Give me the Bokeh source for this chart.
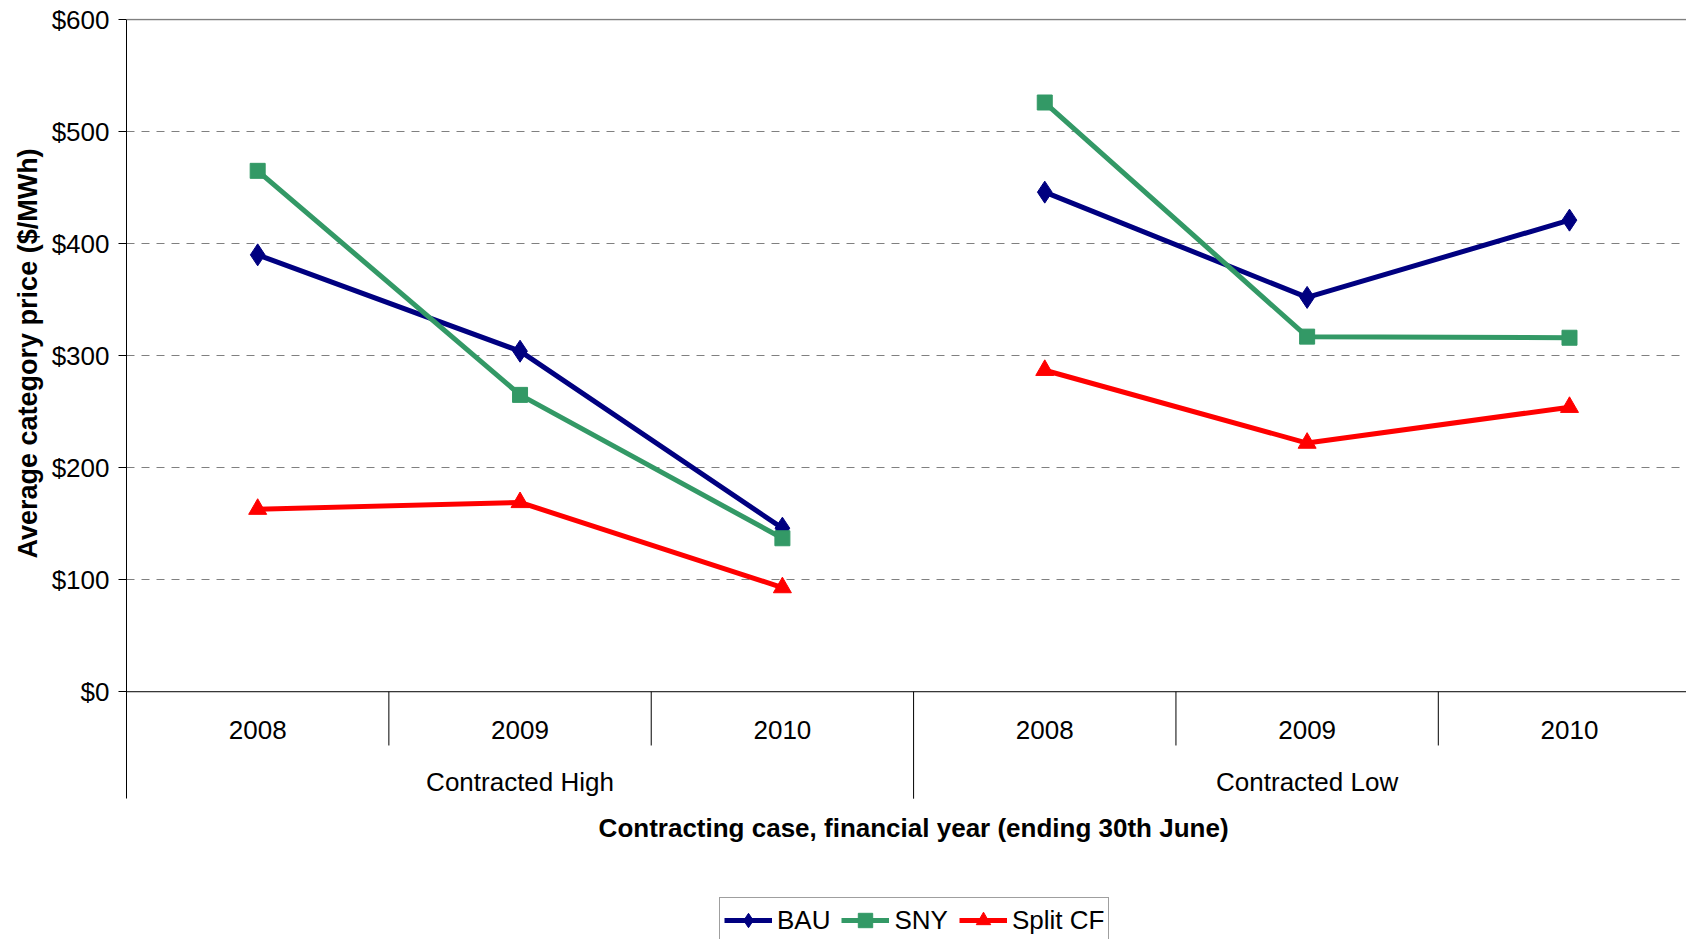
import math

from bokeh.core.properties import value
from bokeh.embed import file_html
from bokeh.models import FixedTicker, Legend, LegendItem, NumeralTickFormatter, Range1d, Span, Title
from bokeh.plotting import figure
from bokeh.resources import INLINE

# ---- data -----------------------------------------------------------------
groups = ["Contracted High", "Contracted Low"]
years = ["2008", "2009", "2010"]
bau = [390, 304, 146, 446, 352, 421]
sny = [465, 265, 137, 526, 317, 316]
split_cf = [163, 169, 93, 287, 222, 254]
y_ticks = [0, 100, 200, 300, 400, 500, 600]

FONT = "Liberation Sans"
NAVY = "#000080"
GREEN = "#339966"
RED = "#FF0000"
GRID = "#808080"

n_years = len(years)
n_cats = n_years * len(groups)
xpos = list(range(n_cats))


def broken(vals):
    """Insert a gap between the contracting cases so lines do not join."""
    xs, ys = [], []
    for g in range(len(groups)):
        if g:
            xs.append(math.nan)
            ys.append(math.nan)
        for k in range(n_years):
            i = g * n_years + k
            xs.append(xpos[i])
            ys.append(vals[i])
    return xs, ys


p = figure(
    width=1686,
    height=939,
    title=None,
    x_axis_location=None,
    output_backend="svg",
    toolbar_location=None,
    min_border_left=126,
    min_border_right=0,
    min_border_top=18,
    min_border_bottom=0,
    x_range=Range1d(-0.5, 5.446),
    y_range=Range1d(-221.2, 601),
)
p.outline_line_color = None
p.background_fill_color = "white"
p.border_fill_color = "white"
p.xgrid.visible = False

# y axis
yax = p.yaxis[0]
yax.ticker = FixedTicker(ticks=y_ticks)
yax.formatter = NumeralTickFormatter(format="$0,0")
yax.bounds = (-95.5, 600)
yax.axis_line_color = "black"
yax.major_tick_line_color = "black"
yax.major_tick_out = 8
yax.major_tick_in = 0
yax.minor_tick_out = 0
yax.minor_tick_in = 0
yax.major_label_standoff = 9
yax.major_label_text_font = FONT
yax.major_label_text_font_size = "26px"
yax.major_label_text_color = "black"

# axis title, raised so it sits centred on the value range ($0-$600)
p.add_layout(Title(
    text="Average category price ($/MWh)",
    align="left",
    offset=381,
    standoff=12,
    text_font=FONT,
    text_font_size="27px",
    text_font_style="bold",
    text_color="black",
), "left")

# dashed gridlines between the floor and the ceiling
p.ygrid.ticker = FixedTicker(ticks=y_ticks[1:-1])
p.ygrid.grid_line_color = GRID
p.ygrid.grid_line_dash = "8 7"
p.ygrid.grid_line_width = 1

p.add_layout(Span(location=y_ticks[-1], dimension="width", line_color=GRID, line_width=1.5))
p.add_layout(Span(location=y_ticks[0], dimension="width", line_color="black", line_width=1))

# two-level category axis drawn in the lower band
sep_x = [g * n_years + k + 0.5 for g in range(len(groups)) for k in range(n_years - 1)]
p.segment(x0=sep_x, y0=[0] * len(sep_x), x1=sep_x, y1=[-48] * len(sep_x), line_color="black", line_width=1)
grp_x = [g * n_years - 0.5 for g in range(1, len(groups))]
p.segment(x0=grp_x, y0=[0] * len(grp_x), x1=grp_x, y1=[-95.5] * len(grp_x), line_color="black", line_width=1)

p.text(
    x=xpos,
    y=[-34.5] * n_cats,
    text=years * len(groups),
    text_font=value(FONT),
    text_font_size="26px",
    text_color="black",
    text_align="center",
    text_baseline="middle",
)
p.text(
    x=[g * n_years + (n_years - 1) / 2 for g in range(len(groups))],
    y=[-80.6] * len(groups),
    text=groups,
    text_font=value(FONT),
    text_font_size="26px",
    text_color="black",
    text_align="center",
    text_baseline="middle",
)
p.text(
    x=[(n_cats - 1) / 2],
    y=[-122],
    text=["Contracting case, financial year (ending 30th June)"],
    text_font=value(FONT),
    text_font_size="26px",
    text_font_style="bold",
    text_color="black",
    text_align="center",
    text_baseline="middle",
)

# series
series = [
    ("BAU", bau, NAVY, "diamond", 22),
    ("SNY", sny, GREEN, "square", 15),
    ("Split CF", split_cf, RED, "triangle", 18),
]
items = []
for label, vals, color, marker, size in series:
    xs, ys = broken(vals)
    ln = p.line(xs, ys, line_color=color, line_width=5, line_join="round")
    mk = p.scatter(xpos, vals, marker=marker, size=size, fill_color=color, line_color=color)
    items.append(LegendItem(label=label, renderers=[ln, mk]))

legend = Legend(
    items=items,
    orientation="horizontal",
    location=(593, -4),
    label_text_font=FONT,
    label_text_font_size="26px",
    label_text_color="black",
    glyph_width=48,
    glyph_height=36,
    label_standoff=5,
    spacing=11,
    padding=4,
    margin=0,
    border_line_color="#404040",
    border_line_width=1,
    background_fill_color="white",
    background_fill_alpha=1,
)
p.add_layout(legend)

open("out.html", "w").write(file_html(p, INLINE))
